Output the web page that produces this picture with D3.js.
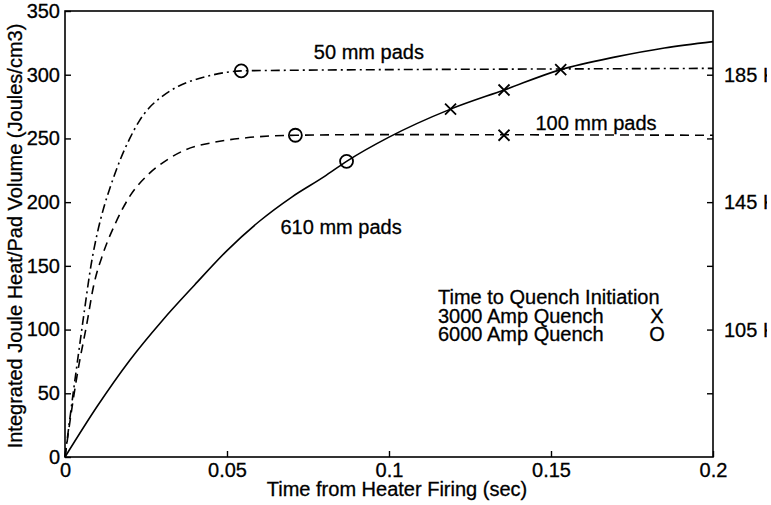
<!DOCTYPE html>
<html>
<head>
<meta charset="utf-8">
<script src="https://cdn.jsdelivr.net/npm/d3@7"></script>
<style>
  body { margin: 0; background: #fff; }
  text { font-family: "Liberation Sans", Arial, sans-serif; fill: #000; stroke: #000; stroke-width: 0.3px; }
</style>
</head>
<body>
<div id="chart"></div>
<script>
// values
const xTicks = [0, 0.05, 0.1, 0.15, 0.2];
const xTickLabels = ["0", "0.05", "0.1", "0.15", "0.2"];
const yTicks = [0, 50, 100, 150, 200, 250, 300, 350];
const rightTicks = [50, 100, 150, 200, 250, 300];
const rightLabelAt = [300, 200, 100];
const rightLabels = ["185 K", "145 K", "105 K"];

// 50 mm pads (dash-dot)
const t50 = [0, 0.002, 0.004, 0.006, 0.008, 0.010, 0.012, 0.014, 0.017, 0.020, 0.023, 0.026, 0.030, 0.035, 0.040, 0.045, 0.0544, 0.07, 0.1, 0.15, 0.2];
const v50 = [0, 40, 78, 115, 150, 176, 196, 212, 233, 250, 264, 274, 283, 291, 296, 299.5, 303, 303.5, 304, 304.5, 305];
// 100 mm pads (dashed)
const t100 = [0, 0.002, 0.004, 0.0067, 0.0088, 0.0118, 0.0155, 0.0196, 0.0258, 0.0314, 0.0371, 0.046, 0.056, 0.0711, 0.1, 0.15, 0.2];
const v100 = [0, 36, 68, 104, 134, 160, 183, 203, 222, 233, 241, 247, 250.5, 252.5, 253, 252.8, 252.5];
// 610 mm pads (solid)
const t610 = [0, 0.01, 0.02, 0.03, 0.04, 0.05, 0.06, 0.07, 0.08, 0.0869, 0.1, 0.119, 0.1355, 0.153, 0.17, 0.185, 0.2];
const v610 = [0, 40, 76, 107, 135, 162, 185, 204, 220, 232, 251, 273, 288, 304, 314, 321, 326];

// quench markers
const crossT = [0.119, 0.1355, 0.153, 0.1355];
const crossV = [273, 288, 304, 252.5];
const circleT = [0.0544, 0.0711, 0.0869];
const circleV = [303, 252.5, 232];

const legendLines = ["Time to Quench Initiation", "3000 Amp Quench", "6000 Amp Quench"];
const legendSymbols = ["", "X", "O"];

const width = 771, height = 505;
const margin = {top: 11, right: 58, bottom: 48, left: 65};
const visWidth = width - margin.left - margin.right;
const visHeight = height - margin.top - margin.bottom;

const svg = d3.select("#chart").append("svg")
    .attr("width", width)
    .attr("height", height);

svg.append("defs").append("clipPath").attr("id", "edge")
  .append("rect").attr("x", 0).attr("y", 0).attr("width", 767).attr("height", height);

const g = svg.append("g")
    .attr("transform", `translate(${margin.left},${margin.top})`);

const x = d3.scaleLinear().domain([0, 0.2]).range([0, visWidth]);
const y = d3.scaleLinear().domain([0, 350]).range([visHeight, 0]);

// frame
g.append("rect")
  .attr("width", visWidth).attr("height", visHeight)
  .attr("fill", "none").attr("stroke", "#000").attr("stroke-width", 1.6);

// axes, ticks pointing inward
const yAxis = g.append("g")
  .call(d3.axisLeft(y).tickValues(yTicks).tickSizeInner(-6).tickSizeOuter(0).tickPadding(3));
yAxis.select(".domain").remove();
yAxis.selectAll("line").attr("stroke-width", 1.4);
yAxis.selectAll("text").attr("font-size", "20px").attr("font-family", "Liberation Sans, Arial, sans-serif").attr("fill", "#000")
  .attr("dx", "-2px");

const xAxis = g.append("g")
  .attr("transform", `translate(0,${visHeight})`)
  .call(d3.axisBottom(x).tickValues(xTicks).tickFormat((d, i) => xTickLabels[i]).tickSizeInner(-6).tickSizeOuter(0).tickPadding(6));
xAxis.select(".domain").remove();
xAxis.selectAll("line").attr("stroke-width", 1.4);
xAxis.selectAll("text").attr("font-size", "20px").attr("font-family", "Liberation Sans, Arial, sans-serif").attr("fill", "#000");

const rAxis = g.append("g")
  .attr("transform", `translate(${visWidth},0)`)
  .call(d3.axisRight(y).tickValues(rightTicks).tickFormat("").tickSizeInner(-6).tickSizeOuter(0));
rAxis.select(".domain").remove();
rAxis.selectAll("line").attr("stroke-width", 1.4);

svg.append("g").attr("clip-path", "url(#edge)")
  .selectAll("text")
  .data(rightLabelAt)
  .enter().append("text")
    .attr("x", margin.left + visWidth + 11)
    .attr("y", d => margin.top + y(d))
    .attr("dy", "0.35em")
    .attr("font-size", "20px")
    .text((d, i) => rightLabels[i]);

// axis titles
svg.append("text")
  .attr("x", 397)
  .attr("y", 496)
  .attr("text-anchor", "middle")
  .attr("font-size", "20px")
  .text("Time from Heater Firing (sec)");

svg.append("text")
  .attr("transform", "translate(22," + (margin.top + visHeight / 2 + 2) + ") rotate(-90)")
  .attr("text-anchor", "middle")
  .attr("font-size", "20px")
  .text("Integrated Joule Heat/Pad Volume (Joules/cm3)");

// curves
const line = d3.line()
  .x(d => x(d[0]))
  .y(d => y(d[1]))
  .curve(d3.curveMonotoneX);

const series = [
  {t: t50, v: v50, dash: "9,4,2,4"},
  {t: t100, v: v100, dash: "9,6"},
  {t: t610, v: v610, dash: null}
];

g.selectAll(".curve")
  .data(series)
  .enter().append("path")
    .attr("class", "curve")
    .attr("d", d => line(d.t.map((t, i) => [t, d.v[i]])))
    .attr("fill", "none")
    .attr("stroke", "#000")
    .attr("stroke-width", 1.6)
    .attr("stroke-dasharray", d => d.dash);

// markers
g.selectAll(".circ")
  .data(circleT)
  .enter().append("circle")
    .attr("class", "circ")
    .attr("cx", d => x(d))
    .attr("cy", (d, i) => y(circleV[i]))
    .attr("r", 6.5)
    .attr("fill", "none")
    .attr("stroke", "#000")
    .attr("stroke-width", 1.8);

const crosses = g.selectAll(".cross")
  .data(crossT)
  .enter().append("g")
    .attr("class", "cross")
    .attr("transform", (d, i) => `translate(${x(d)},${y(crossV[i])})`);
crosses.append("path")
  .attr("d", "M-5.5,-5.5L5.5,5.5M-5.5,5.5L5.5,-5.5")
  .attr("stroke", "#000")
  .attr("stroke-width", 1.8);

// curve labels
g.append("text").attr("x", x(0.0768)).attr("y", y(312)).attr("font-size", "20px").text("50 mm pads");
g.append("text").attr("x", x(0.1452)).attr("y", y(257)).attr("font-size", "20px").text("100 mm pads");
g.append("text").attr("x", x(0.0665)).attr("y", y(175)).attr("font-size", "20px").text("610 mm pads");

// legend
const legend = svg.append("g");
legend.selectAll(".lt")
  .data(legendLines)
  .enter().append("text")
    .attr("class", "lt")
    .attr("x", 438)
    .attr("y", (d, i) => 304 + i * 18.5)
    .attr("font-size", "20px")
    .text(d => d);
legend.selectAll(".ls")
  .data(legendSymbols)
  .enter().append("text")
    .attr("class", "ls")
    .attr("x", 657)
    .attr("y", (d, i) => 304 + i * 18.5)
    .attr("text-anchor", "middle")
    .attr("font-size", "20px")
    .text(d => d);
</script>
</body>
</html>
